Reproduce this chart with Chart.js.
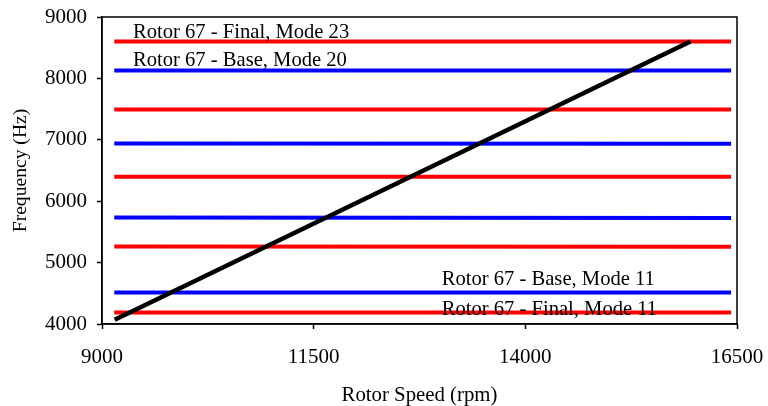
<!DOCTYPE html>
<html>
<head>
<meta charset="utf-8">
<title>Rotor 67 Campbell diagram</title>
<script src="https://cdn.jsdelivr.net/npm/chart.js@4/dist/chart.umd.min.js"></script>
<style>
  body { margin: 0; background: #fff; }
  canvas { display: block; }
</style>
</head>
<body>
<canvas id="campbell" width="768" height="406"></canvas>
<script>
// rotor speed span of the mode lines (rpm)
const modeSpeeds = [9145, 16430];

// Rotor 67 - Final modes (Hz), left and right end
const finalModes = [
    [8600, 8600],
    [7495, 7495],
    [6400, 6400],
    [5264, 5257],
    [4187, 4187]
];

// Rotor 67 - Base modes (Hz), left and right end
const baseModes = [
    [8130, 8130],
    [6940, 6937],
    [5736, 5726],
    [4512, 4512]
];

// engine order excitation line
const orderSpeeds = [9150, 15950];
const orderFreqs = [4070, 8600];

// labels
const noteTexts = [
    'Rotor 67 - Final, Mode 23',
    'Rotor 67 - Base, Mode 20',
    'Rotor 67 - Base, Mode 11',
    'Rotor 67 - Final, Mode 11'
];
const noteSpeeds = [9366, 9366, 13012, 13012];
const noteFreqs = [8658, 8195, 4640, 4140];

const xTicks = [9000, 11500, 14000, 16500];
const yTicks = [4000, 5000, 6000, 7000, 8000, 9000];

const serif = 'Liberation Serif, Times New Roman, serif';

function modeLine(vals, color) {
    return {
        data: modeSpeeds.map((s, i) => ({ x: s, y: vals[i] })),
        borderColor: color,
        borderWidth: 4,
        pointRadius: 0,
        fill: false,
        tension: 0
    };
}

const datasets = [{
    data: orderSpeeds.map((s, i) => ({ x: s, y: orderFreqs[i] })),
    borderColor: '#000',
    borderWidth: 4.5,
    pointRadius: 0,
    fill: false
}];
finalModes.forEach(m => datasets.push(modeLine(m, '#ff0000')));
baseModes.forEach(m => datasets.push(modeLine(m, '#0000ff')));

const notesPlugin = {
    id: 'notes',
    afterDatasetsDraw(chart) {
        const ctx = chart.ctx;
        const xs = chart.scales.x, ys = chart.scales.y;
        const a = chart.chartArea;
        ctx.save();
        // frame
        ctx.strokeStyle = '#000';
        ctx.lineWidth = 1.5;
        ctx.strokeRect(a.left, a.top, a.right - a.left, a.bottom - a.top);
        ctx.fillStyle = '#000';
        ctx.font = '20.6px ' + serif;
        ctx.textAlign = 'left';
        ctx.textBaseline = 'alphabetic';
        noteTexts.forEach((t, i) => {
            ctx.fillText(t, xs.getPixelForValue(noteSpeeds[i]), ys.getPixelForValue(noteFreqs[i]));
        });
        ctx.restore();
    }
};

new Chart(document.getElementById('campbell'), {
    type: 'line',
    data: { datasets: datasets },
    options: {
        responsive: false,
        animation: false,
        devicePixelRatio: 1,
        layout: { padding: { top: 17, right: 31, left: 0, bottom: 0 } },
        plugins: { legend: { display: false }, tooltip: { enabled: false } },
        scales: {
            x: {
                type: 'linear',
                min: 9000,
                max: 16500,
                afterBuildTicks: s => { s.ticks = xTicks.map(v => ({ value: v })); },
                afterFit: s => { s.height = 82; s.paddingLeft = 0; s.paddingRight = 0; },
                grid: { drawOnChartArea: false, drawTicks: true, tickLength: 5, color: '#000', tickWidth: 1.5 },
                border: { display: true, color: '#000', width: 1.5 },
                ticks: {
                    color: '#000', padding: 16, maxRotation: 0,
                    font: { family: serif, size: 21 },
                    callback: v => String(v)
                },
                title: {
                    display: true,
                    text: 'Rotor Speed (rpm)',
                    color: '#000',
                    font: { family: serif, size: 20.8 },
                    padding: { top: 0, bottom: -2 }
                }
            },
            y: {
                type: 'linear',
                min: 4000,
                max: 9000,
                afterBuildTicks: s => { s.ticks = yTicks.map(v => ({ value: v })); },
                afterFit: s => { s.width = 102; s.paddingTop = 0; s.paddingBottom = 0; },
                grid: { drawOnChartArea: false, drawTicks: true, tickLength: 5, color: '#000', tickWidth: 1.5 },
                border: { display: true, color: '#000', width: 1.5 },
                ticks: {
                    color: '#000', padding: 10,
                    font: { family: serif, size: 21 },
                    callback: v => String(v)
                },
                title: {
                    display: true,
                    text: 'Frequency (Hz)',
                    color: '#000',
                    font: { family: serif, size: 19.6 },
                    padding: { top: 9, bottom: 0 }
                }
            }
        }
    },
    plugins: [notesPlugin]
});
</script>
</body>
</html>
